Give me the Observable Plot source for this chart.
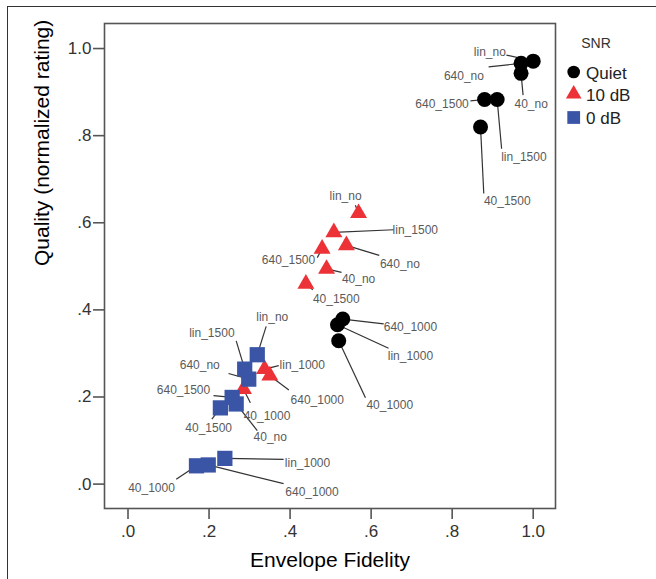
<!DOCTYPE html>
<html><head><meta charset="utf-8">
<script src="https://cdn.jsdelivr.net/npm/d3@7"></script>
<script src="https://cdn.jsdelivr.net/npm/@observablehq/plot@0.6"></script>
<style>
html,body{margin:0;padding:0;background:#fff;}
#wrap{position:relative;width:656px;height:579px;overflow:hidden;font-family:"Liberation Sans",Arial,sans-serif;}
#border{position:absolute;left:7px;top:6px;right:-4px;bottom:-4px;border-left:1.5px solid #333;border-top:1.5px solid #333;pointer-events:none;}
#wrap svg{position:absolute;left:0;top:0;}
</style></head><body><div id="wrap"><div id="border"></div></div>
<script>
// Condition labels (same order for every SNR series)
const conditions = ["lin_no","640_no","40_no","lin_1500","640_1500","40_1500","lin_1000","640_1000","40_1000"];
const snrLevels = ["Quiet","10 dB","0 dB"];
const tickValues = [0, 0.2, 0.4, 0.6, 0.8, 1.0];
const tickLabels = [".0", ".2", ".4", ".6", ".8", "1.0"];

// Quiet
const quietFidelity = [1.000, 0.970, 0.970, 0.911, 0.880, 0.870, 0.517, 0.530, 0.520];
const quietQuality  = [0.971, 0.966, 0.943, 0.883, 0.883, 0.820, 0.366, 0.379, 0.329];
const quietLabelX   = [0.893, 0.829, 0.995, 0.977, 0.775, 0.936, 0.697, 0.697, 0.646];
const quietLabelY   = [0.991, 0.937, 0.872, 0.751, 0.872, 0.650, 0.293, 0.360, 0.182];
const quietLeadX    = [0.934, 0.890, 0.975, 0.922, 0.845, 0.878, 0.643, 0.631, 0.586];
const quietLeadY    = [0.985, 0.958, 0.893, 0.770, 0.880, 0.667, 0.312, 0.368, 0.198];

// 10 dB
const snr10Fidelity = [0.569, 0.539, 0.490, 0.508, 0.479, 0.439, 0.337, 0.350, 0.285];
const snr10Quality  = [0.622, 0.548, 0.494, 0.578, 0.540, 0.460, 0.264, 0.249, 0.218];
const snr10LabelX   = [0.537, 0.671, 0.569, 0.709, 0.396, 0.514, 0.430, 0.467, 0.343];
const snr10LabelY   = [0.660, 0.506, 0.470, 0.584, 0.515, 0.425, 0.272, 0.193, 0.157];
const snr10LeadX    = [0.561, 0.620, 0.527, 0.656, 0.467, 0.456, 0.372, 0.397, 0.302];
const snr10LeadY    = [0.640, 0.525, 0.486, 0.584, 0.520, 0.446, 0.272, 0.216, 0.187];

// 0 dB
const snr0Fidelity = [0.319, 0.298, 0.267, 0.288, 0.257, 0.228, 0.239, 0.198, 0.169];
const snr0Quality  = [0.297, 0.241, 0.184, 0.264, 0.199, 0.175, 0.059, 0.044, 0.042];
const snr0LabelX   = [0.356, 0.177, 0.351, 0.207, 0.137, 0.199, 0.443, 0.454, 0.058];
const snr0LabelY   = [0.383, 0.274, 0.107, 0.347, 0.216, 0.129, 0.047, -0.018, -0.009];
const snr0LeadX    = [0.341, 0.248, 0.319, 0.267, 0.211, 0.207, 0.384, 0.384, 0.119];
const snr0LeadY    = [0.362, 0.254, 0.123, 0.329, 0.203, 0.149, 0.057, 0.001, 0.011];

const colors = {"Quiet": "#000000", "10 dB": "#ec3237", "0 dB": "#3a55a6"};
const symbols = {"Quiet": "circle", "10 dB": "triangle", "0 dB": "square"};

function rows(snr, fid, q, lx, ly, ex, ey) {
  return conditions.map((c, i) => ({snr, label: c, fidelity: fid[i], quality: q[i], lx: lx[i], ly: ly[i], ex: ex[i], ey: ey[i]}));
}
const quiet = rows("Quiet", quietFidelity, quietQuality, quietLabelX, quietLabelY, quietLeadX, quietLeadY);
const snr10 = rows("10 dB", snr10Fidelity, snr10Quality, snr10LabelX, snr10LabelY, snr10LeadX, snr10LeadY);
const snr0 = rows("0 dB", snr0Fidelity, snr0Quality, snr0LabelX, snr0LabelY, snr0LeadX, snr0LeadY);
const all = [...quiet, ...snr10, ...snr0];

const font = "Liberation Sans, Arial, sans-serif";
const plot = Plot.plot({
  width: 656, height: 579,
  marginLeft: 104, marginRight: 101, marginTop: 23, marginBottom: 71,
  style: {fontFamily: font, background: "transparent", overflow: "visible"},
  x: {domain: [-0.058, 1.055]},
  y: {domain: [-0.056, 1.0575]},
  marks: [
    Plot.axisX({ticks: tickValues, tickFormat: d => tickLabels[tickValues.indexOf(d)], tickSize: 11, tickPadding: 5, fontSize: 17, label: null, stroke: "#555", strokeWidth: 1.6, fill: "#333"}),
    Plot.axisY({ticks: tickValues, tickFormat: d => tickLabels[tickValues.indexOf(d)], tickSize: 11, tickPadding: 2, fontSize: 17, label: null, stroke: "#555", strokeWidth: 1.6, fill: "#333"}),
    Plot.link(all, {x1: "fidelity", y1: "quality", x2: "ex", y2: "ey", stroke: "#333", strokeWidth: 1.2}),
    Plot.text(all, {x: "lx", y: "ly", text: "label", fill: "#5a5a5a", fontSize: 12}),
    Plot.dot(quiet, {x: "fidelity", y: "quality", symbol: "circle", r: 7.5, fill: colors["Quiet"]}),
    Plot.dot(snr10, {x: "fidelity", y: "quality", symbol: "triangle", r: 6.3, fill: colors["10 dB"]}),
    Plot.dot(snr0, {x: "fidelity", y: "quality", symbol: "square", r: 8.6, fill: colors["0 dB"]}),
    Plot.frame({stroke: "#555", strokeWidth: 1.6}),
    Plot.text(["Envelope Fidelity"], {frameAnchor: "bottom", dy: 58, fontSize: 21, fill: "#000"}),
    Plot.text(["Quality (normalized rating)"], {frameAnchor: "left", rotate: -90, dx: -62, fontSize: 21, fill: "#000"})
  ]
});

// Legend
const svg = d3.select(plot);
const lg = svg.append("g").attr("font-family", font);
lg.append("text").attr("x", 596).attr("y", 43).attr("text-anchor", "middle").attr("dy", "0.35em").attr("font-size", 14).attr("fill", "#333").text("SNR");
const symMap = {circle: d3.symbolCircle, triangle: d3.symbolTriangle, square: d3.symbolSquare};
const legendR = {"Quiet": 6.3, "10 dB": 5.8, "0 dB": 7.2};
snrLevels.forEach((s, i) => {
  const cy = [72, 94, 117.5][i];
  lg.append("path").attr("transform", `translate(573.7,${cy})`)
    .attr("d", d3.symbol(symMap[symbols[s]], Math.PI * legendR[s] * legendR[s])())
    .attr("fill", colors[s]);
  lg.append("text").attr("x", 586).attr("y", cy + 1).attr("dy", "0.35em").attr("text-anchor", "start").attr("font-size", 17).attr("fill", "#222").text(s);
});

document.getElementById("wrap").appendChild(plot);
</script>
</body></html>
